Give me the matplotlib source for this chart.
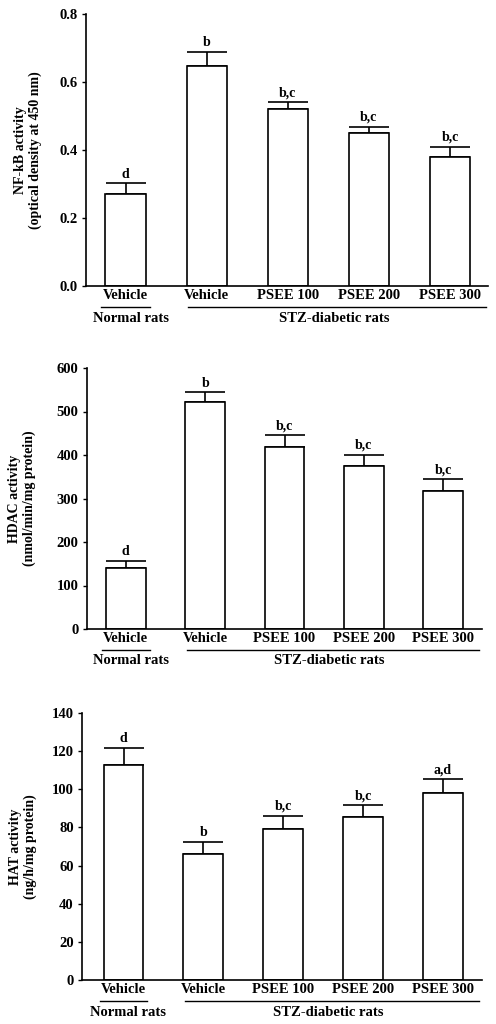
import numpy as np
import matplotlib
matplotlib.use("Agg")
import matplotlib.pyplot as plt
from matplotlib.transforms import offset_copy

plt.rcParams['font.family'] = ['Liberation Serif', 'DejaVu Serif']
plt.rcParams['font.weight'] = 'bold'

categories = ["Vehicle", "Vehicle", "PSEE 100", "PSEE 200", "PSEE 300"]
group_normal = "Normal rats"
group_stz = "STZ-diabetic rats"

nfkb_mean = [0.272, 0.648, 0.521, 0.449, 0.380]
nfkb_err = [0.030, 0.040, 0.020, 0.020, 0.030]
nfkb_sig = ["d", "b", "b,c", "b,c", "b,c"]

hdac_mean = [140, 522, 419, 375, 317]
hdac_err = [16, 22, 26, 26, 27]
hdac_sig = ["d", "b", "b,c", "b,c", "b,c"]

hat_mean = [112.9, 66.0, 79.3, 85.7, 97.8]
hat_err = [8.9, 6.3, 6.9, 5.8, 7.6]
hat_sig = ["d", "b", "b,c", "b,c", "a,d"]

W, H = 496, 1024
fig = plt.figure(figsize=(W / 100, H / 100), dpi=100)

panels = [
    dict(mean=nfkb_mean, err=nfkb_err, sig=nfkb_sig,
         rect=(86, 14, 488, 286), ylim=(0, 0.8), yticks=np.arange(0, 0.81, 0.2),
         fmt="{:.1f}", ylabel="NF-kB activity\n(optical density at 450 nm)", labx=28,
         xlim=(-0.49, 4.47)),
    dict(mean=hdac_mean, err=hdac_err, sig=hdac_sig,
         rect=(87, 368, 482, 629), ylim=(0, 600), yticks=np.arange(0, 601, 100),
         fmt="{:.0f}", ylabel="HDAC activity\n(nmol/min/mg protein)", labx=22,
         xlim=(-0.49, 4.49)),
    dict(mean=hat_mean, err=hat_err, sig=hat_sig,
         rect=(82, 713, 482, 980), ylim=(0, 140), yticks=np.arange(0, 141, 20),
         fmt="{:.0f}", ylabel="HAT activity\n(ng/h/mg protein)", labx=23,
         xlim=(-0.52, 4.49)),
]

x = np.arange(len(categories))
for p in panels:
    l, t, r, b = p["rect"]
    ax = fig.add_axes([l / W, 1 - b / H, (r - l) / W, (b - t) / H])
    ax.bar(x, p["mean"], width=0.5, color="white", edgecolor="black", linewidth=1.2, zorder=2)
    ax.errorbar(x, p["mean"], yerr=[np.zeros(len(x)), p["err"]], fmt="none",
                ecolor="black", elinewidth=1.2, capsize=14.3, capthick=1.2, zorder=1)
    tops = np.array(p["mean"]) + np.array(p["err"])
    for xi, yi, s in zip(x, tops, p["sig"]):
        ax.annotate(s, (xi, yi), xytext=(0, 2), textcoords="offset points",
                    ha="center", va="bottom", fontsize=10, fontweight="bold")
    ax.set_xlim(*p["xlim"])
    ax.set_ylim(*p["ylim"])
    ax.set_yticks(p["yticks"])
    ax.set_yticklabels([p["fmt"].format(v) for v in p["yticks"]], fontsize=10.5, fontweight="bold")
    ax.set_xticks(x)
    ax.set_xticklabels(categories, fontsize=10.5, fontweight="bold")
    ax.tick_params(axis="x", length=0, pad=2)
    ax.tick_params(axis="y", direction="out", length=3, width=1, pad=3)
    for s in ("top", "right"):
        ax.spines[s].set_visible(False)
    for s in ("left", "bottom"):
        ax.spines[s].set_linewidth(1.2)
    # group underlines and labels
    tr_line = offset_copy(ax.get_xaxis_transform(), fig=fig, x=0, y=-21, units="dots")
    ax.plot([-0.3, 0.3], [0, 0], transform=tr_line, color="black", lw=1.0, clip_on=False)
    ax.plot([0.77, 4.45], [0, 0], transform=tr_line, color="black", lw=1.0, clip_on=False)
    tr_grp = offset_copy(ax.get_xaxis_transform(), fig=fig, x=0, y=-32, units="dots")
    ax.text(0.06, 0, group_normal, transform=tr_grp, ha="center", va="center",
            fontsize=10.5, fontweight="bold")
    ax.text(2.57, 0, group_stz, transform=tr_grp, ha="center", va="center",
            fontsize=10.5, fontweight="bold")
    fig.text(p["labx"] / W, 1 - (t + b) / 2 / H, p["ylabel"], rotation=90,
             ha="center", va="center", fontsize=10, fontweight="bold",
             multialignment="center", linespacing=1.2)

fig.savefig("out.png", dpi=100, facecolor="white")
